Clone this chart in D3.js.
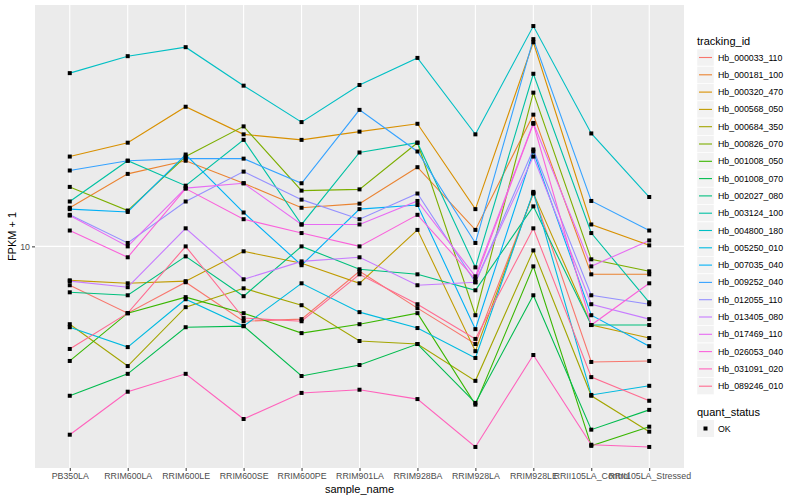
<!DOCTYPE html>
<html>
<head>
<meta charset="utf-8">
<script src="https://cdn.jsdelivr.net/npm/d3@7"></script>
<style>
  body { margin: 0; background: #fff; }
  text { font-family: "Liberation Sans", Arial, sans-serif; }
</style>
</head>
<body>
<div class="chart"></div>
<script>
// samples on the x axis
var samples = ["PB350LA", "RRIM600LA", "RRIM600LE", "RRIM600SE", "RRIM600PE", "RRIM901LA",
  "RRIM928BA", "RRIM928LA", "RRIM928LE", "RRII105LA_Control", "RRII105LA_Stressed"];

var trackingIds = ["Hb_000033_110", "Hb_000181_100", "Hb_000320_470", "Hb_000568_050", "Hb_000684_350",
  "Hb_000826_070", "Hb_001008_050", "Hb_001008_070", "Hb_002027_080", "Hb_003124_100",
  "Hb_004800_180", "Hb_005250_010", "Hb_007035_040", "Hb_009252_040", "Hb_012055_110",
  "Hb_013405_080", "Hb_017469_110", "Hb_026053_040", "Hb_031091_020", "Hb_089246_010"];

// FPKM + 1, one row per tracking id, one value per sample
var fpkm = [
  [7.99, 6.80, 8.13, 6.49, 6.57, 8.66, 7.00, 5.69, 13.57, 5.13, 5.16],
  [12.5, 15.2, 16.4, 14.4, 12.5, 12.8, 15.8, 11.0, 21.4, 8.51, 8.51],
  [16.8, 18.2, 22.4, 19.1, 18.5, 19.4, 20.3, 12.4, 32.5, 11.35, 10.06],
  [8.22, 8.08, 8.18, 9.72, 9.07, 8.08, 11.0, 5.46, 13.6, 6.35, 5.89],
  [6.38, 5.01, 7.04, 7.85, 7.12, 5.79, 5.69, 4.60, 9.77, 4.22, 3.43],
  [14.1, 12.3, 16.8, 20.0, 13.8, 13.9, 18.2, 6.72, 24.3, 9.28, 8.66],
  [5.16, 6.80, 7.46, 6.80, 6.06, 6.38, 6.80, 4.01, 8.91, 3.16, 3.53],
  [4.22, 4.79, 6.27, 6.31, 4.73, 5.04, 5.69, 4.05, 7.54, 3.47, 3.89],
  [7.67, 7.54, 9.44, 7.50, 10.0, 8.76, 8.51, 7.76, 12.6, 6.35, 6.35],
  [12.96, 16.4, 14.2, 18.5, 11.35, 17.2, 18.2, 8.86, 27.1, 10.8, 7.24],
  [27.2, 30.0, 31.6, 25.3, 20.5, 25.4, 29.7, 19.1, 35.7, 19.2, 13.3],
  [6.27, 5.59, 7.37, 6.31, 8.08, 6.84, 6.24, 5.25, 13.7, 4.24, 4.47],
  [12.4, 12.2, 17.0, 12.16, 8.97, 12.4, 12.7, 6.20, 17.3, 6.72, 5.62],
  [15.5, 16.4, 16.6, 16.6, 14.4, 22.0, 17.3, 10.2, 33.1, 13.0, 10.96],
  [12.0, 10.2, 12.96, 15.4, 13.1, 11.7, 13.57, 8.13, 17.5, 7.54, 7.16],
  [8.18, 7.90, 11.1, 8.27, 9.17, 9.39, 7.99, 8.13, 16.8, 7.16, 6.57],
  [11.95, 10.0, 14.0, 14.4, 11.35, 11.35, 13.0, 8.41, 20.4, 8.91, 10.35],
  [10.96, 9.39, 13.96, 11.7, 10.8, 10.0, 12.0, 8.27, 20.3, 6.35, 8.08],
  [3.37, 4.32, 4.79, 3.69, 4.29, 4.37, 4.14, 3.14, 5.34, 3.18, 3.14],
  [5.53, 6.80, 10.0, 6.61, 6.49, 8.51, 7.16, 5.86, 11.1, 4.70, 4.10]
];

var yTicks = [10];
var quantStatus = ["OK"];

// ggplot hue palette for 20 groups
var palette = ["#F8766D", "#EA8331", "#D89000", "#C09B00", "#A3A500", "#7CAE00", "#39B600", "#00BB4E",
  "#00BF7D", "#00C1A3", "#00BFC4", "#00BAE0", "#00B0F6", "#35A2FF", "#9590FF", "#C77CFF",
  "#E76BF3", "#FA62DB", "#FF62BC", "#FF6C91"];

var svgWidth = 800;
var svgHeight = 500;
var panel = { left: 35, right: 684, top: 5, bottom: 468 };

var svg = d3.select(".chart")
  .append("svg")
  .attr("width", svgWidth)
  .attr("height", svgHeight);

svg.append("rect")
  .attr("width", svgWidth)
  .attr("height", svgHeight)
  .attr("fill", "#fff");

// panel background
svg.append("rect")
  .attr("x", panel.left)
  .attr("y", panel.top)
  .attr("width", panel.right - panel.left)
  .attr("height", panel.bottom - panel.top)
  .attr("fill", "#EBEBEB");

var xScale = d3.scalePoint()
  .domain(samples)
  .range([panel.left, panel.right])
  .padding(0.6);

// log scale with 5% expansion like ggplot
var allVals = d3.merge(fpkm);
var lo = Math.log10(d3.min(allVals));
var hi = Math.log10(d3.max(allVals));
var pad = (hi - lo) * 0.05;
var yScale = d3.scaleLog()
  .domain([Math.pow(10, lo - pad), Math.pow(10, hi + pad)])
  .range([panel.bottom, panel.top]);

// grid lines
svg.append("g").selectAll("line")
  .data(samples)
  .enter()
  .append("line")
  .attr("x1", d => xScale(d))
  .attr("x2", d => xScale(d))
  .attr("y1", panel.top)
  .attr("y2", panel.bottom)
  .attr("stroke", "#fff")
  .attr("stroke-width", 1.1);

svg.append("g").selectAll("line")
  .data(yTicks)
  .enter()
  .append("line")
  .attr("x1", panel.left)
  .attr("x2", panel.right)
  .attr("y1", d => yScale(d))
  .attr("y2", d => yScale(d))
  .attr("stroke", "#fff")
  .attr("stroke-width", 1.1);

// lines per tracking id
var line = d3.line()
  .x((d, i) => xScale(samples[i]))
  .y(d => yScale(d));

svg.append("g").selectAll("path")
  .data(fpkm)
  .enter()
  .append("path")
  .attr("d", d => line(d))
  .attr("fill", "none")
  .attr("stroke", (d, i) => palette[i])
  .attr("stroke-width", 1.1);

// points
var pts = [];
fpkm.forEach(function(row) {
  row.forEach(function(v, j) { pts.push({ s: samples[j], v: v }); });
});
svg.append("g").selectAll("rect")
  .data(pts)
  .enter()
  .append("rect")
  .attr("x", d => xScale(d.s) - 2)
  .attr("y", d => yScale(d.v) - 2)
  .attr("width", 4)
  .attr("height", 4)
  .attr("fill", "#000");

// x axis
var xAxis = svg.append("g")
  .attr("transform", `translate(0, ${panel.bottom})`)
  .call(d3.axisBottom(xScale).tickSize(3).tickPadding(2));
xAxis.select(".domain").remove();
xAxis.selectAll("line").attr("stroke", "#333");
xAxis.selectAll("text")
  .attr("fill", "#4D4D4D")
  .attr("font-size", "8.8px")
  .style("font-family", "Liberation Sans, Arial, sans-serif");

// y axis
var yAxis = svg.append("g")
  .attr("transform", `translate(${panel.left}, 0)`)
  .call(d3.axisLeft(yScale).tickValues(yTicks).tickFormat(d3.format("d")).tickSize(3).tickPadding(2));
yAxis.select(".domain").remove();
yAxis.selectAll("line").attr("stroke", "#333");
yAxis.selectAll("text")
  .attr("fill", "#4D4D4D")
  .attr("font-size", "8.8px")
  .style("font-family", "Liberation Sans, Arial, sans-serif");

// axis titles
svg.append("text")
  .attr("x", (panel.left + panel.right) / 2)
  .attr("y", 493)
  .attr("text-anchor", "middle")
  .attr("font-size", "11px")
  .text("sample_name");

svg.append("text")
  .attr("transform", `translate(16, ${(panel.top + panel.bottom) / 2}) rotate(-90)`)
  .attr("text-anchor", "middle")
  .attr("font-size", "11px")
  .text("FPKM + 1");

// legend: tracking_id
var legend = svg.append("g").attr("transform", "translate(697, 0)");
legend.append("text")
  .attr("x", 0)
  .attr("y", 45)
  .attr("font-size", "11px")
  .text("tracking_id");

var keys = legend.selectAll("g.key")
  .data(trackingIds)
  .enter()
  .append("g")
  .attr("class", "key")
  .attr("transform", (d, i) => `translate(0, ${49 + i * 17.3})`);

keys.append("rect")
  .attr("width", 17)
  .attr("height", 17)
  .attr("fill", "#F2F2F2")
  .attr("stroke", "#fff")
  .attr("stroke-width", 0.5);

keys.append("line")
  .attr("x1", 2)
  .attr("x2", 15)
  .attr("y1", 8.5)
  .attr("y2", 8.5)
  .attr("stroke", (d, i) => palette[i])
  .attr("stroke-width", 1.1);

keys.append("text")
  .attr("x", 21)
  .attr("y", 11.5)
  .attr("font-size", "8.8px")
  .text(d => d);

// legend: quant_status
legend.append("text")
  .attr("x", 0)
  .attr("y", 416)
  .attr("font-size", "11px")
  .text("quant_status");

var qs = legend.selectAll("g.qs")
  .data(quantStatus)
  .enter()
  .append("g")
  .attr("class", "qs")
  .attr("transform", (d, i) => `translate(0, ${420 + i * 17.3})`);

qs.append("rect")
  .attr("width", 17)
  .attr("height", 17)
  .attr("fill", "#F2F2F2");

qs.append("rect")
  .attr("x", 6.5)
  .attr("y", 6.5)
  .attr("width", 4)
  .attr("height", 4)
  .attr("fill", "#000");

qs.append("text")
  .attr("x", 21)
  .attr("y", 11.5)
  .attr("font-size", "8.8px")
  .text(d => d);
</script>
</body>
</html>
